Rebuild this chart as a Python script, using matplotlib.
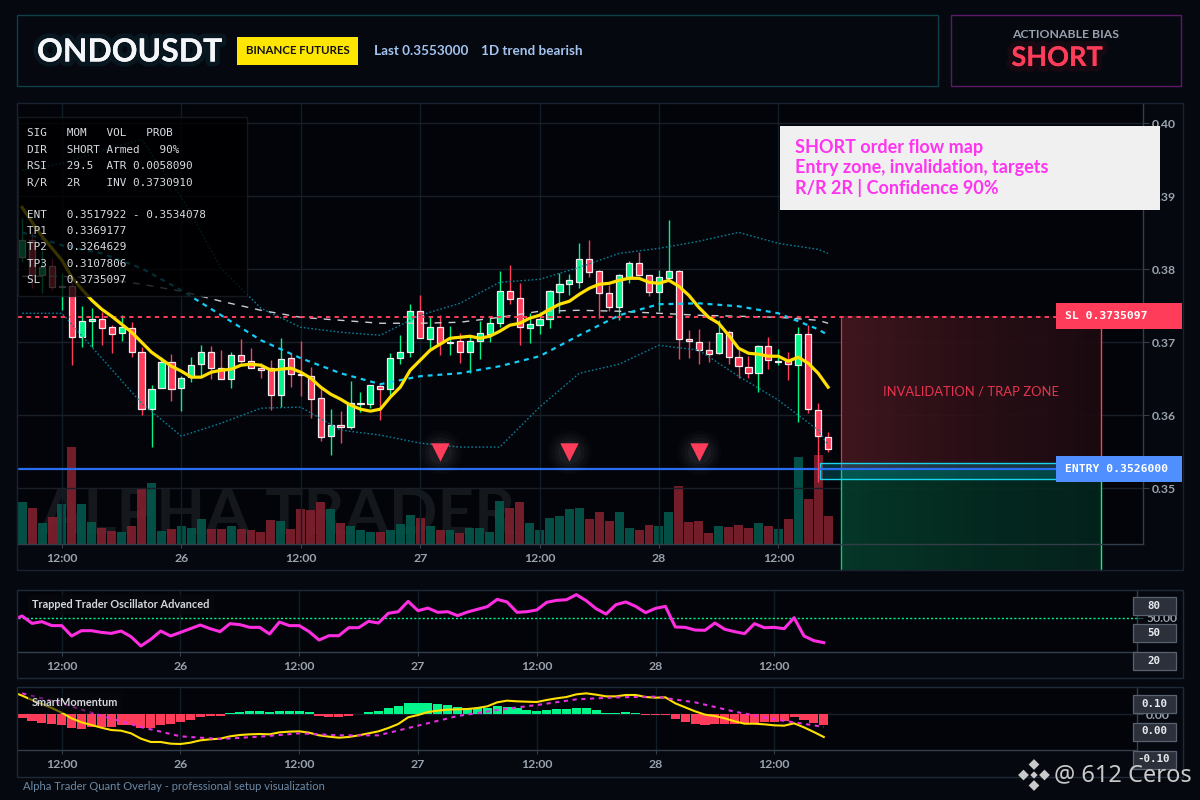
import numpy as np
import matplotlib
matplotlib.use('Agg')
import matplotlib.pyplot as plt
import matplotlib.patheffects as pe
from matplotlib.patches import Rectangle
from matplotlib.colors import LinearSegmentedColormap

# price data, one hourly candle per entry, hour 0 = the 12:00 of the 25th
first_hour = -4
opens = [.38164,.38397,.37918,.38041,.37753,.37767,.37068,.37288,.37315,.37205,.37123,.37192,.36863,.36082,.36370,.36726,.36370,.36521,.36699,.36863,.36644,.36493,.36822,.36740,.36644,.36644,.36274,.36781,.36562,.36534,.36233,.35712,.35863,.35836,.36158,.36151,.36397,.36356,.36781,.36863,.37425,.37041,.37205,.36990,.37014,.36863,.37014,.37110,.37260,.37699,.37603,.37192,.37233,.37315,.37685,.37795,.37822,.38137,.37973,.37671,.37479,.37890,.38082,.37918,.37685,.37877,.37973,.37041,.37000,.36890,.36849,.37137,.36795,.36658,.36575,.36945,.36733,.36740,.36685,.37110,.36068,.35699]
highs = [.38699,.38507,.38260,.38151,.37945,.37822,.37493,.37466,.37411,.37233,.37370,.37274,.36932,.36411,.36795,.36836,.36534,.36795,.36959,.36945,.36890,.36863,.37041,.36918,.36712,.36753,.37055,.36849,.37014,.36658,.36370,.36082,.36055,.36466,.36315,.36411,.36411,.36849,.37096,.37521,.37644,.37342,.37370,.37219,.37123,.37096,.37288,.37329,.37973,.38055,.37808,.37397,.37411,.37712,.37945,.37932,.38356,.38397,.37986,.37781,.37932,.38110,.38233,.37918,.37986,.38671,.37986,.37164,.37178,.37014,.37301,.37164,.36918,.36808,.36959,.37068,.36904,.36863,.37205,.37233,.36164,.35767]
lows = [.38096,.37740,.37671,.37712,.37438,.36685,.36932,.36932,.36959,.36849,.37014,.36795,.36000,.35562,.36370,.36192,.36055,.36452,.36534,.36493,.36493,.36370,.36712,.36644,.36507,.36068,.36110,.36384,.36260,.35959,.35644,.35452,.35616,.35808,.36041,.36096,.35932,.36274,.36699,.36795,.37055,.36890,.36822,.36822,.36712,.36575,.36767,.37000,.37205,.37521,.36959,.36986,.37110,.37192,.37397,.37644,.37740,.37890,.37329,.37425,.37301,.37808,.37918,.37630,.37425,.37877,.36767,.36781,.36699,.36726,.36836,.36699,.36507,.36507,.36315,.36630,.36685,.36479,.35904,.36027,.35082,.35493]
closes = [.38397,.37918,.38027,.37753,.37767,.37068,.37288,.37315,.37192,.37110,.37205,.36863,.36082,.36356,.36726,.36356,.36507,.36685,.36863,.36644,.36493,.36822,.36740,.36644,.36616,.36274,.36767,.36562,.36548,.36219,.35699,.35863,.35836,.36164,.36164,.36411,.36356,.36781,.36863,.37425,.37055,.37205,.36986,.37000,.36863,.37014,.37123,.37260,.37699,.37589,.37205,.37247,.37315,.37699,.37795,.37849,.38137,.37959,.37671,.37479,.37918,.38082,.37918,.37685,.37890,.37973,.37041,.37014,.36890,.36836,.37123,.36795,.36671,.36575,.36945,.36753,.36747,.36699,.37110,.36082,.35712,.35534]
volumes = [42,36,21,27,40,97,40,22,16,13,12,18,56,61,13,15,18,16,25,15,15,18,15,14,12,24,23,15,35,34,42,35,21,18,14,12,12,14,20,29,26,18,14,14,11,16,16,12,43,36,42,21,14,26,28,35,36,25,32,23,32,16,14,19,18,32,58,22,23,11,18,17,19,16,21,18,15,25,87,45,89,28]
ema_line = [.38849,.38644,.38452,.38288,.38123,.37890,.37726,.37575,.37452,.37356,.37247,.37137,.37000,.36863,.36767,.36671,.36603,.36521,.36521,.36589,.36616,.36630,.36685,.36699,.36685,.36616,.36630,.36644,.36589,.36507,.36384,.36288,.36219,.36137,.36082,.36055,.36082,.36247,.36384,.36616,.36753,.36890,.36973,.37055,.37068,.37082,.37055,.37082,.37151,.37233,.37260,.37329,.37370,.37452,.37521,.37562,.37658,.37740,.37795,.37808,.37849,.37877,.37877,.37822,.37808,.37849,.37767,.37644,.37479,.37342,.37260,.37096,.36918,.36849,.36836,.36808,.36808,.36740,.36795,.36712,.36575,.36384]

# band lines, read every 4 hours
band_hours = [-4,0,4,8,12,16,20,24,28,32,36,40,44,48,52,56,60,64,68,72,76,77]
band_mid = [.38507,.38329,.38219,.38014,.37712,.37370,.37027,.36781,.36575,.36425,.36534,.36575,.36671,.36808,.37096,.37370,.37521,.37534,.37493,.37397,.37178,.37096]
band_upper = [.39357,.39452,.39630,.39781,.38987,.38014,.37466,.37205,.37137,.37096,.37370,.37534,.37822,.37863,.38027,.38219,.38288,.38384,.38507,.38356,.38274,.38219]
band_lower = [.37397,.37397,.36781,.36164,.35712,.35890,.36096,.36110,.35795,.35726,.35616,.35562,.35562,.36110,.36575,.36699,.36959,.36890,.36534,.36206,.35795,.35589]
slow_line = [.37904,.37904,.37877,.37795,.37699,.37562,.37438,.37342,.37301,.37260,.37260,.37274,.37342,.37425,.37438,.37425,.37397,.37370,.37356,.37342,.37301,.37260]

sl_price = 0.3735097
entry_price = 0.3526
entry_low = 0.3513
entry_high = 0.35342
zone_hours = [78.3, 104.4]
box_left_hour = 76.2
view_bottom = 0.33877
signal_hours = [38, 51, 64]
signal_price = 0.35493

price_ticks = [0.35, 0.36, 0.37, 0.38, 0.39, 0.40]
time_ticks = [0, 12, 24, 36, 48, 60, 72]
time_labels = ['12:00', '26', '12:00', '27', '12:00', '28', '12:00']

# oscillator, starts one hour earlier so that it reaches the left edge
osc_first_hour = -5
osc_values = [47.8,52.2,44.0,45.9,41.5,41.5,30.0,35.9,35.9,34.0,32.9,35.5,29.2,18.9,26.3,35.5,30.0,34.0,38.1,42.2,38.1,34.8,43.7,42.6,39.6,39.6,32.2,45.5,41.5,41.5,34.8,25.5,30.3,30.3,39.2,39.2,46.3,44.4,55.2,57.0,68.5,58.1,61.0,56.3,57.0,52.6,56.6,59.6,62.6,70.7,67.8,56.3,57.0,58.9,67.4,69.6,70.3,75.9,69.2,60.3,54.4,64.8,67.8,62.9,55.9,60.7,62.9,40.0,39.6,36.6,36.3,44.4,37.4,34.8,32.6,43.7,39.2,39.6,38.1,50.3,30.0,24.8,22.6]

# momentum pane
mom_hist = [-.0133,-.0255,-.0327,-.0364,-.0400,-.0497,-.0545,-.0485,-.0473,-.0473,-.0388,-.0388,-.0497,-.0509,-.0412,-.0364,-.0291,-.0218,-.0121,-.0073,-.0073,.0036,.0073,.0109,.0109,.0073,.0109,.0109,.0109,.0073,-.0073,-.0109,-.0109,-.0073,.0010,.0073,.0109,.0218,.0291,.0400,.0400,.0400,.0364,.0315,.0255,.0206,.0206,.0218,.0291,.0255,.0218,.0145,.0109,.0145,.0182,.0182,.0218,.0218,.0145,.0036,.0036,.0073,.0036,-.0036,-.0036,-.0036,-.0182,-.0291,-.0364,-.0400,-.0364,-.0364,-.0364,-.0327,-.0327,-.0291,-.0291,-.0255,-.0109,-.0218,-.0327,-.0400]
mom_line = [.0812,.0667,.0509,.0364,.0218,.0048,-.0158,-.0303,-.0400,-.0497,-.0582,-.0606,-.0703,-.0897,-.1018,-.1018,-.1079,-.1091,-.1042,-.0958,-.0921,-.0897,-.0812,-.0764,-.0739,-.0727,-.0739,-.0667,-.0642,-.0630,-.0679,-.0776,-.0824,-.0861,-.0836,-.0776,-.0703,-.0630,-.0509,-.0364,-.0121,-.0036,.0073,.0121,.0158,.0170,.0182,.0218,.0279,.0424,.0485,.0461,.0448,.0436,.0509,.0570,.0618,.0715,.0752,.0703,.0642,.0642,.0691,.0691,.0618,.0594,.0606,.0388,.0242,.0097,-.0024,-.0073,-.0158,-.0267,-.0352,-.0352,-.0376,-.0412,-.0424,-.0339,-.0485,-.0655,-.0836]
mom_signal = [.0752,.0388,-.0061,-.0473,-.0812,-.0909,-.0824,-.0703,-.0776,-.0776,-.0424,-.0073,.0145,.0327,.0533,.0606,.0630,.0424,.0085,-.0194,-.0412,-.0473]

info_lines = ['SIG   MOM   VOL   PROB', 'DIR   SHORT Armed   90%', 'RSI   29.5  ATR 0.0058090', 'R/R   2R    INV 0.3730910',
              'ENT   0.3517922 - 0.3534078', 'TP1   0.3369177', 'TP2   0.3264629', 'TP3   0.3107806', 'SL    0.3735097']
info_rows = [133, 150, 166, 183, 215, 231, 247, 264, 280]

BG = '#05080f'
PANEL = '#02040a'
RED = '#ff3d5a'
GREEN = '#00f58a'
YELLOW = '#ffe000'
MAGENTA = '#ff2de0'
TICK = '#9aa3ad'
SPINE = '#343d4a'
GRID = '#1a1f27'
VGRID = '#0f1d26'
SANS = 'Lato'
MONO = 'DejaVu Sans Mono'
W, H = 1200, 800
XLIM = (-4.47, 108.6)


def add_axes_px(left, top, right, bottom, zorder):
    a = fig.add_axes([left / W, 1 - bottom / H, (right - left) / W, (bottom - top) / H], zorder=zorder)
    return a


def style_pane(a):
    a.set_facecolor(PANEL)
    a.set_xlim(*XLIM)
    a.yaxis.tick_right()
    for side in ['top', 'left']:
        a.spines[side].set_visible(False)
    for side in ['bottom', 'right']:
        a.spines[side].set_color(SPINE)
        a.spines[side].set_linewidth(1.0)
    a.set_xticks(time_ticks)
    a.set_xticklabels(time_labels)
    a.tick_params(axis='x', colors=TICK, labelsize=8.8, length=3, width=0.8, pad=3.5, color=SPINE)
    a.tick_params(axis='y', colors=TICK, labelsize=8.8, length=4, width=0.8, pad=3, color=SPINE)
    for lab in a.get_xticklabels() + a.get_yticklabels():
        lab.set_family(SANS)
        lab.set_fontweight('bold')
    a.grid(axis='x', color=VGRID, linewidth=1.0)
    a.set_axisbelow(True)


fig = plt.figure(figsize=(12, 8), dpi=100, facecolor=BG)

# volume sits under the price axes and shares the same hours
hours = np.arange(first_hour, first_hour + len(closes))
o = np.array(opens)
c = np.array(closes)
up = c >= o

vol_ax = add_axes_px(17.5, 103.5, 1142.5, 544, 1)
vol_ax.set_facecolor(PANEL)
vol_ax.set_xlim(*XLIM)
vol_ax.set_ylim(0, 440.5)
vol_ax.axis('off')
vol_ax.add_patch(Rectangle((0, 0), 1, 1, transform=vol_ax.transAxes, facecolor=PANEL, edgecolor='none', zorder=0))
vol_ax.text(21.7, 28, 'ALPHA TRADER', fontsize=46, fontweight='bold', family=SANS, color='#14171c',
            ha='center', va='center', clip_on=True, zorder=1)
vol_ax.bar(hours, volumes, width=0.9, color=np.where(up, '#05564a', '#7e1f2d'), alpha=0.93, zorder=2)

# price panel
ax = add_axes_px(17.5, 103.5, 1142.5, 544, 2)
style_pane(ax)
ax.patch.set_alpha(0)
ax.set_ylim(0.34233, 0.40274)
ax.set_yticks(price_ticks)
ax.set_yticklabels(['%.2f' % p for p in price_ticks])
ax.grid(axis='y', color=GRID, linewidth=1.0)

# trade zones run below the axes down to the frame
red_cmap = LinearSegmentedColormap.from_list('redzone', ['#451820', '#2d1017', '#1c0b11'])
green_cmap = LinearSegmentedColormap.from_list('greenzone', ['#063c2b', '#052e22', '#04241d'])
grad = np.linspace(0, 1, 256).reshape(1, -1)
for cmap, y0, y1 in [(red_cmap, entry_price, sl_price), (green_cmap, view_bottom, entry_price)]:
    im = ax.imshow(grad, cmap=cmap, extent=(zone_hours[0], zone_hours[1], y0, y1), aspect='auto', alpha=0.92, zorder=1.2)
    im.set_clip_on(False)
ax.set_xlim(*XLIM)
ax.set_ylim(0.34233, 0.40274)
ax.plot([zone_hours[0], zone_hours[0]], [entry_price, sl_price], color=RED, lw=0.9, alpha=0.8, zorder=1.3, clip_on=False)
ax.plot([zone_hours[1], zone_hours[1]], [entry_price, sl_price], color=RED, lw=1.0, zorder=1.3, clip_on=False)
ax.plot([zone_hours[0], zone_hours[0]], [view_bottom, entry_price], color=GREEN, lw=1.0, alpha=0.8, zorder=1.3, clip_on=False)
ax.plot([zone_hours[1], zone_hours[1]], [view_bottom, entry_price], color=GREEN, lw=1.0, zorder=1.3, clip_on=False)
ax.add_patch(Rectangle((box_left_hour, entry_low), zone_hours[1] - box_left_hour, entry_high - entry_low,
                       facecolor='#00c8e0', alpha=0.22, edgecolor='none', zorder=1.4))
ax.add_patch(Rectangle((box_left_hour, entry_low), zone_hours[1] - box_left_hour, entry_high - entry_low,
                       facecolor='none', edgecolor='#18d4ee', lw=1.0, zorder=1.5))
ax.text(np.mean(zone_hours), 0.3633, 'INVALIDATION / TRAP ZONE', color='#e8344f', fontsize=9.4, family=SANS,
        ha='center', va='center', zorder=1.6)

# candles
wick_colors = np.where(up, GREEN, RED)
ax.vlines(hours, lows, highs, colors=wick_colors, linewidth=1.0, zorder=3)
body_low = np.minimum(o, c)
body_h = np.abs(c - o)
ax.bar(hours, body_h, bottom=body_low, width=0.62, color=wick_colors, edgecolor='#f3e9ee', linewidth=0.9, zorder=3.2)

ax.plot(band_hours, band_upper, color='#0a7d92', lw=1.0, ls=(0, (1.2, 1.5)), zorder=3.4)
ax.plot(band_hours, band_lower, color='#0a7d92', lw=1.0, ls=(0, (1.2, 1.5)), zorder=3.4)
ax.plot(band_hours, slow_line, color='#c9cdd2', lw=1.0, ls=(0, (5, 5)), zorder=3.4)
ax.plot(band_hours, band_mid, color='#14cdf5', lw=1.6, ls=(0, (2.2, 2.2)), zorder=3.5)
ax.plot(hours, ema_line, color=YELLOW, lw=2.3, zorder=3.7)

ax.axhline(entry_price, color='#2a6ef0', lw=1.6, zorder=2.8)
ax.axhline(sl_price, color=RED, lw=1.4, ls=(0, (2.2, 2.2)), zorder=3.6)

# bearish signal markers with a soft halo
for size, alpha in [(1000, 0.02), (720, 0.025), (480, 0.03), (280, 0.035)]:
    ax.scatter(signal_hours, [signal_price] * 3, s=size, color='#ffffff', alpha=alpha, linewidths=0, zorder=3.8)
ax.scatter(signal_hours, [signal_price] * 3, s=175, marker='v', color=RED, linewidths=0, zorder=3.9)

# oscillator pane
osc_hours = np.arange(osc_first_hour, osc_first_hour + len(osc_values))
osc_ax = add_axes_px(17.5, 590, 1136.5, 652, 2)
style_pane(osc_ax)
osc_ax.set_ylim(12.2, 81.1)
osc_ax.set_yticks([50])
osc_ax.set_yticklabels(['50.00'])
osc_ax.axhline(50, color='#00f58a', lw=1.0, ls=(0, (1.5, 1.5)), zorder=2)
osc_ax.plot(osc_hours, osc_values, color=MAGENTA, lw=2.2, zorder=3)

# momentum pane
mom_ax = add_axes_px(17.5, 687, 1136.5, 750, 2)
style_pane(mom_ax)
mom_ax.set_ylim(-0.1309, 0.0982)
mom_ax.set_yticks([0])
mom_ax.set_yticklabels(['0.00'])
mom_ax.axhline(0, color=GRID, lw=1.0, zorder=1)
h = np.array(mom_hist)
mom_ax.bar(hours, h, width=0.92, color=np.where(h >= 0, GREEN, RED), zorder=2)
mom_ax.plot(osc_hours, mom_line, color=YELLOW, lw=1.5, zorder=3)
mom_ax.plot(band_hours, mom_signal, color='#e52ee0', lw=1.5, ls=(0, (2, 2.2)), zorder=3)

# everything else is page furniture in pixel coordinates
ov = fig.add_axes([0, 0, 1, 1], zorder=5)
ov.set_xlim(0, W)
ov.set_ylim(H, 0)
ov.axis('off')


def box(x0, y0, x1, y1, **kw):
    ov.add_patch(Rectangle((x0, y0), x1 - x0, y1 - y0, **kw))


box(17, 15, 938, 86, fill=False, edgecolor='#0d4049', lw=1.0)
box(951, 15, 1181, 86, fill=False, edgecolor='#5c1a66', lw=1.0)
box(17, 103, 1182.5, 570, fill=False, edgecolor='#1a2230', lw=1.0)
box(17, 589.5, 1182.5, 678, fill=False, edgecolor='#1e2a38', lw=1.0)
box(17, 687, 1182.5, 777, fill=False, edgecolor='#1e2a38', lw=1.0)

ov.text(37, 52, 'ONDOUSDT', color='#f4f6fa', fontsize=23, fontweight='bold', family=SANS, va='center',
        path_effects=[pe.withStroke(linewidth=7, foreground='#0c2a33', alpha=0.45), pe.Normal()])
box(237, 37, 358, 65, facecolor='#ffe600', edgecolor='none')
ov.text(297.5, 51, 'BINANCE FUTURES', color='#101010', fontsize=8.3, fontweight='bold', family=SANS, ha='center', va='center')
ov.text(374, 51, 'Last 0.3553000', color='#a4c4f0', fontsize=9.7, fontweight='bold', family=SANS, va='center')
ov.text(481, 51, '1D trend bearish', color='#a4c4f0', fontsize=9.7, fontweight='bold', family=SANS, va='center')
ov.text(1065.5, 34, 'ACTIONABLE BIAS', color='#98a1ae', fontsize=8.8, fontweight='bold', family=SANS, ha='center', va='center')
ov.text(1057, 58, 'SHORT', color=RED, fontsize=19.5, fontweight='bold', family=SANS, ha='center', va='center',
        path_effects=[pe.withStroke(linewidth=8, foreground='#3a0c18', alpha=0.35), pe.Normal()])

box(780, 126, 1160, 210, facecolor='#f0f0f0', edgecolor='none')
for y, line in zip([147, 168, 188], ['SHORT order flow map', 'Entry zone, invalidation, targets', 'R/R 2R | Confidence 90%']):
    ov.text(795, y, line, color='#ff33f0', fontsize=13, fontweight='bold', family=SANS, va='center')

box(18, 117, 246.5, 296, facecolor='#000000', edgecolor='#1a1f26', alpha=0.78, lw=1.0)
for y, line in zip(info_rows, info_lines):
    ov.text(27, y, line, color='#d8dce0', fontsize=7.9, family=MONO, va='center')

box(1056, 303, 1182, 329, facecolor=RED, edgecolor='none')
ov.text(1065, 316, 'SL 0.3735097', color='#ffffff', fontsize=8.2, fontweight='bold', family=MONO, va='center')
box(1056, 456, 1182, 482, facecolor='#4f8fff', edgecolor='none')
ov.text(1065, 469, 'ENTRY 0.3526000', color='#ffffff', fontsize=8.2, fontweight='bold', family=MONO, va='center')

for text, y in [('80', 606), ('50', 633), ('20', 661), ('0.10', 704), ('0.00', 731.5), ('-0.10', 759.5)]:
    box(1132.5, y - 9, 1175.5, y + 9, facecolor='#2b303b', edgecolor='#5a6270', lw=0.9)
    ov.text(1154, y, text, color='#e8eaee', fontsize=7.8, fontweight='bold', family=MONO, ha='center', va='center')

ov.text(32, 605, 'Trapped Trader Oscillator Advanced', color='#d4d8dc', fontsize=7.9, fontweight='bold', family=SANS, va='center',
        bbox=dict(facecolor='#06090f', edgecolor='none', pad=3, alpha=0.8))
ov.text(32, 703, 'SmartMomentum', color='#d4d8dc', fontsize=7.9, fontweight='bold', family=SANS, va='center',
        bbox=dict(facecolor='#06090f', edgecolor='none', pad=3, alpha=0.55))
ov.text(23, 787, 'Alpha Trader Quant Overlay - professional setup visualization', color='#6d88a3', fontsize=8.0, family=SANS, va='center')

# site logo and handle in the corner
ov.scatter([1034, 1034, 1023.5, 1044.5], [764.5, 785.5, 775, 775], s=30, marker='D', facecolor='#c9c9c9', edgecolor='none')
ov.scatter([1034], [775], s=14, marker='D', facecolor='#c9c9c9', edgecolor='none')
ov.text(1054, 775, '@ 612 Ceros', color='#c9c9c9', fontsize=17, family='Noto Sans', va='center')

fig.savefig('out.png', dpi=100, facecolor=BG)
